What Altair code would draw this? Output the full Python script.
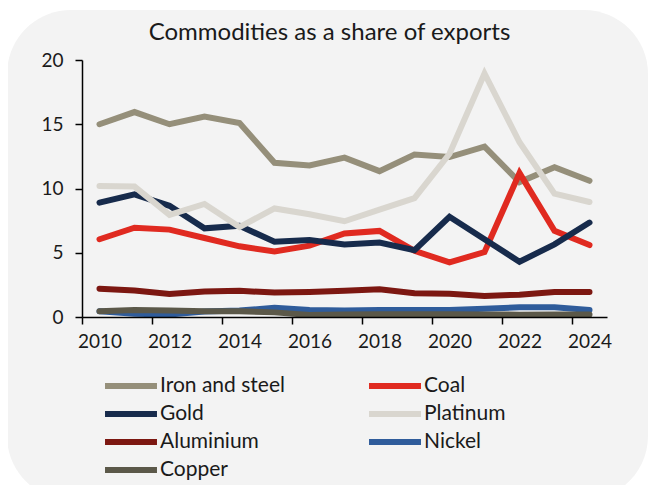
import altair as alt
import pandas as pd

years = list(range(2010, 2025))
series_names = ["Iron and steel", "Coal", "Gold", "Platinum", "Aluminium", "Nickel", "Copper"]
series_colors = ["#958f7a", "#e02a20", "#172b4c", "#d9d6cf", "#7c1711", "#2f5c9b", "#5b5849"]
# legend fills column by column: order so rows read Iron/Coal, Gold/Platinum, ...
legend_order = ["Iron and steel", "Gold", "Aluminium", "Copper", "Coal", "Platinum", "Nickel"]

iron = [15.0, 15.95, 15.0, 15.6, 15.1, 12.0, 11.8, 12.4, 11.35, 12.65, 12.45, 13.25, 10.5, 11.65, 10.6]
coal = [6.05, 6.95, 6.8, 6.15, 5.5, 5.1, 5.55, 6.5, 6.7, 5.15, 4.25, 5.05, 11.2, 6.7, 5.6]
gold = [8.9, 9.55, 8.65, 6.9, 7.1, 5.85, 6.0, 5.65, 5.8, 5.2, 7.8, 6.05, 4.3, 5.65, 7.35]
platinum = [10.2, 10.15, 7.95, 8.8, 7.0, 8.45, 8.0, 7.45, 8.35, 9.25, 12.7, 18.95, 13.6, 9.6, 8.95]
aluminium = [2.2, 2.07, 1.8, 1.98, 2.04, 1.9, 1.95, 2.05, 2.15, 1.85, 1.8, 1.63, 1.74, 1.95, 1.95]
nickel = [0.45, 0.25, 0.2, 0.42, 0.5, 0.72, 0.55, 0.5, 0.55, 0.55, 0.55, 0.65, 0.75, 0.75, 0.55]
copper = [0.45, 0.55, 0.5, 0.45, 0.45, 0.36, 0.15, 0.2, 0.22, 0.22, 0.22, 0.2, 0.18, 0.2, 0.2]

x_tick_years = [2010, 2012, 2014, 2016, 2018, 2020, 2022, 2024]
y_ticks = [0, 5, 10, 15, 20]

rows = []
for name, vals in zip(series_names, [iron, coal, gold, platinum, aluminium, nickel, copper]):
    for yr, v in zip(years, vals):
        rows.append({"year": yr, "value": v, "series": name})
df = pd.DataFrame(rows)

color_map = dict(zip(series_names, series_colors))

FONT = "Lato"
W, H = 525, 257

bg = alt.Chart(pd.DataFrame({"k": [0]})).mark_rect(
    color="#f3f3f3", cornerRadius=64
).encode(
    x=alt.value(-75), x2=alt.value(566), y=alt.value(-50), y2=alt.value(440)
)

lines = alt.Chart(df).mark_line(strokeWidth=6, strokeCap="round").encode(
    x=alt.X(
        "year:Q",
        scale=alt.Scale(domain=[2009.5, 2024.5], nice=False, zero=False),
        axis=alt.Axis(
            values=x_tick_years, format="d", title=None, grid=False,
            tickOffset=-17.5, labelOffset=17.5, tickSize=7, labelPadding=8,
            labelFontSize=19, labelFont=FONT, labelColor="#1a1a1a",
            domainColor="#000000", domainWidth=1.5, tickColor="#000000", tickWidth=1.5,
            labelFlush=False, labelOverlap=False, zindex=1,
        ),
    ),
    y=alt.Y(
        "value:Q",
        scale=alt.Scale(domain=[0, 20], nice=False),
        axis=alt.Axis(
            values=y_ticks, title=None, grid=False, tickSize=7, labelPadding=12,
            labelFontSize=19, labelFont=FONT, labelColor="#1a1a1a",
            domainColor="#000000", domainWidth=1.5, tickColor="#000000", tickWidth=1.5,
            zindex=1,
        ),
    ),
    color=alt.Color(
        "series:N",
        scale=alt.Scale(domain=legend_order, range=[color_map[n] for n in legend_order]),
        legend=alt.Legend(
            title=None, orient="none", legendX=20, legendY=315, columns=2,
            symbolType="stroke", symbolSize=2700, symbolStrokeWidth=6,
            labelFontSize=21, labelFont=FONT, labelColor="#1a1a1a",
            columnPadding=81, rowPadding=6, clipHeight=22, labelOffset=0,
            padding=0, labelLimit=300,
        ),
    ),
)

chart = alt.layer(bg, lines).properties(
    width=W, height=H,
    title=alt.TitleParams(
        "Commodities as a share of exports", fontSize=24, font=FONT,
        fontWeight="normal", color="#1a1a1a", anchor="middle", dx=-15, offset=-54,
        baseline="alphabetic",
    ),
    autosize=alt.AutoSizeParams(type="none"),
    padding={"left": 74, "top": 52, "right": 42, "bottom": 168},
    background="white",
).configure_view(stroke=None)

chart.save("out.html", embed_options={"renderer": "svg", "actions": False})
